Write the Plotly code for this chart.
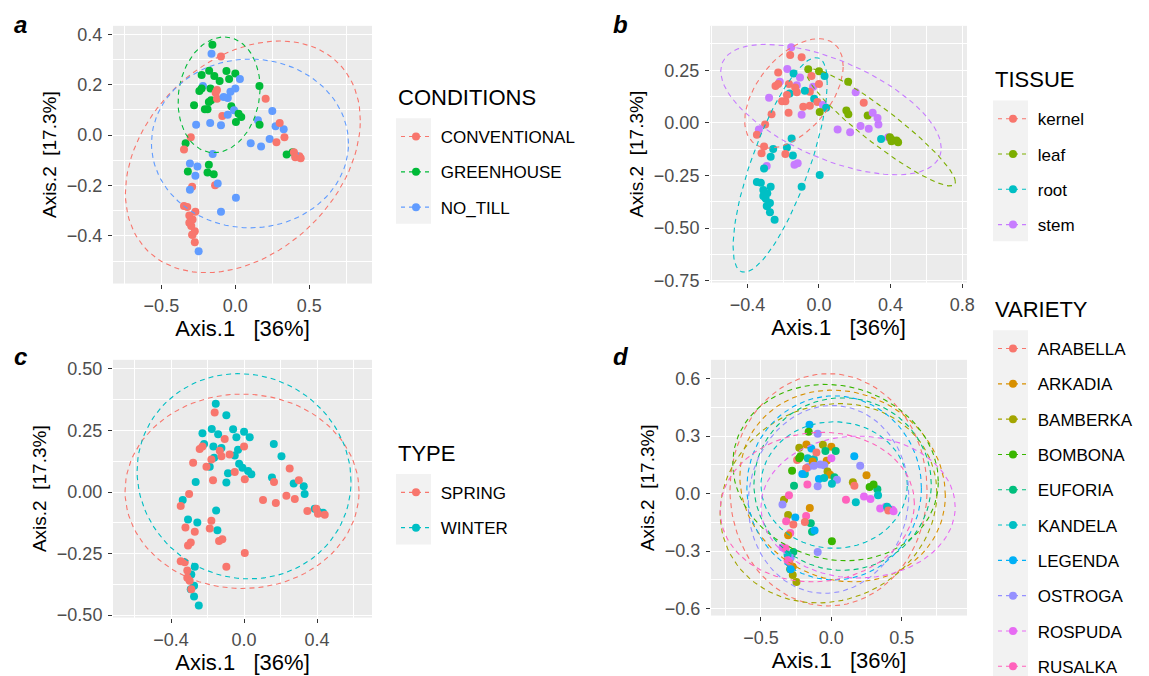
import numpy as np
import plotly.graph_objects as go

# ---------------- data ----------------
axis1 = [-0.155, -0.097, -0.228, -0.177, -0.142, -0.060, 0.000, 0.031, -0.042, -0.219,
         -0.168, -0.124, -0.164, -0.188, -0.033, -0.051, -0.027, -0.009, 0.022, 0.040,
         -0.088, -0.097, -0.265, 0.163, 0.205, 0.153, 0.272, 0.327, 0.332, 0.387,
         0.433, 0.405, -0.336, -0.153, -0.307, -0.256, -0.146, -0.270, -0.307, -0.289,
         -0.274, -0.292, -0.274, -0.248,
         -0.161, -0.106, -0.243, -0.228, -0.179, -0.133, -0.124, -0.079, 0.000, -0.206,
         -0.279, -0.170, -0.051, 0.004, 0.250, 0.164, 0.300, 0.232, 0.278, 0.104,
         0.174, 0.347, 0.396, 0.405, 0.442, -0.301, -0.347, -0.179, -0.321, -0.270,
         -0.188, -0.137, -0.119, -0.292, -0.307, 0.004, -0.097, -0.347, -0.325, -0.311,
         -0.298, -0.289, -0.311]
axis2 = [0.359, 0.312, 0.239, 0.256, 0.235, 0.255, 0.245, 0.223, 0.223, 0.195,
         0.185, 0.179, 0.139, 0.103, 0.172, 0.148, 0.115, 0.099, 0.085, 0.072,
         0.076, 0.039, 0.041, 0.195, 0.145, 0.059, 0.035, 0.023, -0.008, -0.068,
         -0.084, -0.079, -0.032, -0.075, -0.112, -0.124, -0.155, -0.304, -0.348, -0.335,
         -0.381, -0.395, -0.425, -0.461,
         0.323, 0.215, 0.175, 0.185, 0.132, 0.168, 0.145, 0.152, 0.185, 0.103,
         0.119, 0.048, 0.081, 0.052, 0.096, 0.041, 0.048, -0.015, -0.028, -0.032,
         -0.045, -0.077, -0.068, -0.088, -0.092, -0.008, -0.057, -0.117, -0.144, -0.161,
         -0.148, -0.199, -0.192, -0.205, -0.217, -0.248, -0.304, -0.281, -0.285, -0.319,
         -0.361, -0.395, -0.348]
conditions = ["GREENHOUSE", "CONVENTIONAL", "GREENHOUSE", "GREENHOUSE", "GREENHOUSE", "GREENHOUSE", "GREENHOUSE", "NO_TILL", "GREENHOUSE", "NO_TILL",
              "GREENHOUSE", "CONVENTIONAL", "GREENHOUSE", "GREENHOUSE", "NO_TILL", "NO_TILL", "GREENHOUSE", "NO_TILL", "GREENHOUSE", "GREENHOUSE",
              "CONVENTIONAL", "NO_TILL", "NO_TILL", "GREENHOUSE", "CONVENTIONAL", "NO_TILL", "NO_TILL", "NO_TILL", "CONVENTIONAL", "GREENHOUSE",
              "CONVENTIONAL", "NO_TILL", "GREENHOUSE", "NO_TILL", "NO_TILL", "NO_TILL", "GREENHOUSE", "CONVENTIONAL", "NO_TILL", "CONVENTIONAL",
              "CONVENTIONAL", "CONVENTIONAL", "CONVENTIONAL", "NO_TILL",
              "NO_TILL", "GREENHOUSE", "GREENHOUSE", "GREENHOUSE", "GREENHOUSE", "CONVENTIONAL", "CONVENTIONAL", "NO_TILL", "NO_TILL", "GREENHOUSE",
              "GREENHOUSE", "NO_TILL", "NO_TILL", "GREENHOUSE", "NO_TILL", "GREENHOUSE", "CONVENTIONAL", "NO_TILL", "CONVENTIONAL", "NO_TILL",
              "NO_TILL", "GREENHOUSE", "CONVENTIONAL", "CONVENTIONAL", "CONVENTIONAL", "CONVENTIONAL", "CONVENTIONAL", "GREENHOUSE", "GREENHOUSE", "NO_TILL",
              "GREENHOUSE", "CONVENTIONAL", "NO_TILL", "CONVENTIONAL", "NO_TILL", "NO_TILL", "NO_TILL", "CONVENTIONAL", "CONVENTIONAL", "CONVENTIONAL",
              "CONVENTIONAL", "CONVENTIONAL", "CONVENTIONAL"]
tissue = ["stem", "kernel", "kernel", "stem", "root", "leaf", "leaf", "root", "kernel", "stem",
          "kernel", "stem", "root", "kernel", "stem", "kernel", "root", "kernel", "stem", "root",
          "kernel", "stem", "kernel", "leaf", "stem", "leaf", "leaf", "stem", "stem", "stem",
          "leaf", "leaf", "stem", "root", "kernel", "root", "root", "root", "root", "root",
          "root", "root", "root", "root",
          "kernel", "stem", "kernel", "kernel", "kernel", "kernel", "kernel", "root", "kernel", "kernel",
          "stem", "kernel", "kernel", "leaf", "kernel", "leaf", "stem", "stem", "stem", "stem",
          "stem", "root", "leaf", "leaf", "leaf", "kernel", "kernel", "root", "kernel", "root",
          "kernel", "stem", "stem", "stem", "root", "root", "root", "root", "root", "root",
          "root", "root", "root"]
plant_type = ["WINTER"] * 44 + ["SPRING"] * 43
variety = ["LEGENDA", "OSTROGA", "BAMBERKA", "ARKADIA", "LEGENDA", "BAMBERKA", "ARKADIA", "EUFORIA", "EUFORIA", "BOMBONA",
           "KANDELA", "KANDELA", "OSTROGA", "KANDELA", "ARKADIA", "OSTROGA", "BAMBERKA", "ARKADIA", "EUFORIA", "OSTROGA",
           "LEGENDA", "OSTROGA", "EUFORIA", "LEGENDA", "OSTROGA", "BAMBERKA", "BOMBONA", "EUFORIA", "KANDELA", "ROSPUDA",
           "ROSPUDA", "KANDELA", "BAMBERKA", "ARKADIA", "BAMBERKA", "LEGENDA", "EUFORIA", "EUFORIA", "KANDELA", "OSTROGA",
           "ARKADIA", "BOMBONA", "BAMBERKA", "BAMBERKA",
           "BOMBONA", "ARABELLA", "ARABELLA", "BOMBONA", "ARABELLA", "ARKADIA", "OSTROGA", "OSTROGA", "ROSPUDA", "LEGENDA",
           "BOMBONA", "RUSALKA", "KANDELA", "KANDELA", "ARKADIA", "ARABELLA", "BOMBONA", "ROSPUDA", "ROSPUDA", "RUSALKA",
           "KANDELA", "ROSPUDA", "KANDELA", "ARABELLA", "ROSPUDA", "RUSALKA", "OSTROGA", "RUSALKA", "RUSALKA", "ARABELLA",
           "ARABELLA", "EUFORIA", "LEGENDA", "RUSALKA", "ARKADIA", "BOMBONA", "OSTROGA", "ROSPUDA", "RUSALKA", "KANDELA",
           "ARABELLA", "LEGENDA", "RUSALKA"]

cond_levels = ["CONVENTIONAL", "GREENHOUSE", "NO_TILL"]
tissue_levels = ["kernel", "leaf", "root", "stem"]
type_levels = ["SPRING", "WINTER"]
variety_levels = ["ARABELLA", "ARKADIA", "BAMBERKA", "BOMBONA", "EUFORIA",
                  "KANDELA", "LEGENDA", "OSTROGA", "ROSPUDA", "RUSALKA"]

# 95% ellipses: centre, half-widths, correlation (one value per level)
cond_ell_cx = [0.051, -0.110, 0.099]
cond_ell_cy = [-0.086, 0.160, -0.033]
cond_ell_rx = [0.794, 0.277, 0.666]
cond_ell_ry = [0.460, 0.230, 0.335]
cond_ell_rho = [0.315, 0.12, 0.0]

tissue_ell_cx = [-0.140, 0.346, -0.217, 0.067]
tissue_ell_cy = [0.140, -0.022, -0.200, 0.063]
tissue_ell_rx = [0.275, 0.416, 0.263, 0.616]
tissue_ell_ry = [0.260, 0.278, 0.510, 0.310]
tissue_ell_rho = [0.50, -0.93, 0.76, -0.59]

type_ell_cx = [-0.011, 0.000]
type_ell_cy = [0.003, 0.064]
type_ell_rx = [0.641, 0.586]
type_ell_ry = [0.395, 0.417]
type_ell_rho = [0.0, -0.05]

variety_ell_cx = [-0.02, 0.08, -0.02, 0.03, 0.08, 0.02, 0.02, -0.02, 0.19, -0.10]
variety_ell_cy = [0.02, 0.04, -0.05, 0.11, 0.05, 0.045, 0.03, -0.03, -0.07, -0.07]
variety_ell_rx = [0.70, 0.73, 0.77, 0.73, 0.63, 0.52, 0.62, 0.57, 0.69, 0.69]
variety_ell_ry = [0.606, 0.50, 0.52, 0.46, 0.45, 0.33, 0.48, 0.49, 0.37, 0.39]
variety_ell_rho = [0.0, -0.10, 0.10, -0.10, 0.0, 0.0, 0.0, 0.05, 0.0, 0.05]

cond_colors = ["#F8766D", "#00BA38", "#619CFF"]
tissue_colors = ["#F8766D", "#7CAE00", "#00BFC4", "#C77CFF"]
type_colors = ["#F8766D", "#00BFC4"]
variety_colors = ["#F8766D", "#D89000", "#A3A500", "#39B600", "#00BF7D",
                  "#00BFC4", "#00B0F6", "#9590FF", "#E76BF3", "#FF62BC"]

FONT = "Arial, Liberation Sans, sans-serif"
W, H = 1149, 676


def ellipse_path(cx, cy, rx, ry, rho, segments=100):
    t = np.linspace(0, 2 * np.pi, segments + 1)
    ex = cx + rx * np.cos(t)
    ey = cy + ry * (rho * np.cos(t) + np.sqrt(1 - rho ** 2) * np.sin(t))
    return ex, ey


fig = go.Figure()

panels = [
    ("x", "y", conditions, cond_levels, cond_colors, "legend",
     (cond_ell_cx, cond_ell_cy, cond_ell_rx, cond_ell_ry, cond_ell_rho)),
    ("x2", "y2", tissue, tissue_levels, tissue_colors, "legend2",
     (tissue_ell_cx, tissue_ell_cy, tissue_ell_rx, tissue_ell_ry, tissue_ell_rho)),
    ("x3", "y3", plant_type, type_levels, type_colors, "legend3",
     (type_ell_cx, type_ell_cy, type_ell_rx, type_ell_ry, type_ell_rho)),
    ("x4", "y4", variety, variety_levels, variety_colors, "legend4",
     (variety_ell_cx, variety_ell_cy, variety_ell_rx, variety_ell_ry, variety_ell_rho)),
]

for xa, ya, groups, levels, colors, leg, ell in panels:
    cmap = dict(zip(levels, colors))
    fig.add_trace(go.Scatter(
        x=axis1, y=axis2, mode="markers", xaxis=xa, yaxis=ya,
        marker=dict(color=[cmap[g] for g in groups], size=8, line=dict(width=0)),
        showlegend=False, hoverinfo="skip"))
    for i, col in enumerate(colors):
        ex, ey = ellipse_path(ell[0][i], ell[1][i], ell[2][i], ell[3][i], ell[4][i])
        fig.add_trace(go.Scatter(
            x=ex, y=ey, mode="lines", xaxis=xa, yaxis=ya,
            line=dict(color=col, width=1.1, dash="5px,4px"),
            showlegend=False, hoverinfo="skip"))
    for lev, col in zip(levels, colors):
        fig.add_trace(go.Scatter(
            x=[None], y=[None], mode="lines+markers", xaxis=xa, yaxis=ya,
            line=dict(color=col, width=1.1, dash="4px,4px"),
            marker=dict(color=col, size=8),
            name="\u00a0" + lev, legend=leg, legendgroup=leg + lev,
            showlegend=True))


def px_x(p):
    return p / W


def px_y(p):
    return 1 - p / H


# plot areas in pixels: (x0, x1, ytop, ybottom)
areas = {
    "a": (105, 364, 18, 278),
    "b": (702, 959, 18, 277),
    "c": (105, 364, 355, 615),
    "d": (703, 959, 355, 613),
}
ranges = {
    "a": ([-0.827, 0.924], [-0.589, 0.434]),
    "b": ([-0.609, 0.827], [-0.759, 0.461]),
    "c": ([-0.718, 0.701], [-0.51, 0.537]),
    "d": ([-0.855, 0.964], [-0.636, 0.698]),
}
ticks = {
    "a": (0.5, ".1f", 0.2, ".1f"),
    "b": (0.4, ".1f", 0.25, ".2f"),
    "c": (0.4, ".1f", 0.25, ".2f"),
    "d": (0.5, ".1f", 0.3, ".1f"),
}
names = {"a": ("xaxis", "yaxis", "x", "y"), "b": ("xaxis2", "yaxis2", "x2", "y2"),
         "c": ("xaxis3", "yaxis3", "x3", "y3"), "d": ("xaxis4", "yaxis4", "x4", "y4")}

axis_common = dict(
    showgrid=True, gridcolor="white", gridwidth=1.4, zeroline=False, showline=False,
    ticks="outside", ticklen=4, tickwidth=1, tickcolor="#333333",
    tickfont=dict(family=FONT, size=18, color="#4D4D4D"),
    ticklabelstandoff=2,
    automargin=False,
)

layout = {}
for k, (x0, x1, yt, yb) in areas.items():
    xn, yn, xs, ys = names[k]
    xr, yr = ranges[k]
    dx, fx, dy, fy = ticks[k]
    layout[xn] = dict(
        axis_common, domain=[px_x(x0), px_x(x1)], range=xr, anchor=ys,
        tick0=0, dtick=dx, tickformat=fx,
        minor=dict(dtick=dx / 2, tick0=0, showgrid=True, gridcolor="white", gridwidth=0.7, ticks=""),
        title=dict(text="Axis.1\u00a0\u00a0\u00a0[36%]", font=dict(family=FONT, size=22, color="black"), standoff=5),
    )
    layout[yn] = dict(
        axis_common, domain=[px_y(yb), px_y(yt)], range=yr, anchor=xs,
        tick0=0, dtick=dy, tickformat=fy,
        minor=dict(dtick=dy / 2, tick0=0, showgrid=True, gridcolor="white", gridwidth=0.7, ticks=""),
        title=dict(text="Axis.2\u00a0\u00a0[17.3%]", font=dict(family=FONT, size=19, color="black"), standoff=5),
    )

# legends
leg_specs = {
    "legend": (388, 129, 3),
    "legend2": (985, 111, 4),
    "legend3": (388, 488, 2),
    "legend4": (985, 343, 10),
}
leg_titles = {"legend": "CONDITIONS", "legend2": "TISSUE", "legend3": "TYPE", "legend4": "VARIETY"}
ITEM = 35.5
shapes = []
annotations = []
for lg, (lx, first, nitem) in leg_specs.items():
    layout[lg] = dict(
        x=px_x(lx), y=px_y(first - 17), xanchor="left", yanchor="top",
        bgcolor="rgba(0,0,0,0)", font=dict(family=FONT, size=17, color="black"),
        tracegroupgap=10.2, itemwidth=30, traceorder="grouped", itemclick=False,
    )
    shapes.append(dict(type="rect", xref="paper", yref="paper", layer="below",
                       x0=px_x(lx), x1=px_x(lx + 35),
                       y0=px_y(first - ITEM / 2), y1=px_y(min(first + (nitem - 0.5) * ITEM, H)),
                       fillcolor="#F2F2F2", line=dict(width=0)))
    annotations.append(dict(text=leg_titles[lg], xref="paper", yref="paper",
                            x=px_x(lx), y=px_y(first - 39), xanchor="left", yanchor="middle",
                            showarrow=False, font=dict(family=FONT, size=22, color="black")))

for lab, (lx, ly) in {"a": (4, 17), "b": (603, 17), "c": (4, 352), "d": (603, 352)}.items():
    annotations.append(dict(text="<b><i>" + lab + "</i></b>", xref="paper", yref="paper",
                            x=px_x(lx), y=px_y(ly), xanchor="left", yanchor="middle",
                            showarrow=False, font=dict(family=FONT, size=24, color="black")))

fig.update_layout(
    width=W, height=H, margin=dict(l=0, r=0, t=0, b=0),
    paper_bgcolor="white", plot_bgcolor="#EBEBEB",
    font=dict(family=FONT, color="black"),
    shapes=shapes, annotations=annotations,
    **layout,
)

fig.write_html("out.html")
